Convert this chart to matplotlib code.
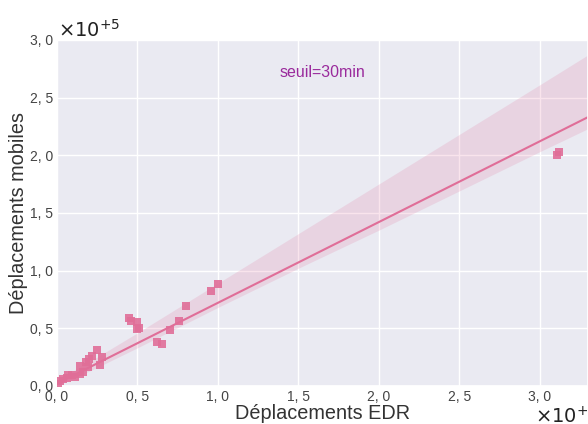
import numpy as np
import matplotlib
matplotlib.use("Agg")
import matplotlib.pyplot as plt
from matplotlib.ticker import FuncFormatter, MultipleLocator
import seaborn as sns

# deplacements EDR (x) vs deplacements mobiles (y), seuil = 30 min
edr = [600, 2000, 4000, 6000, 7000, 9000, 11000, 14000, 14000, 16000,
       18000, 19000, 20000, 22000, 25000, 27000, 28000, 45000, 46000, 50000,
       51000, 50000, 62000, 65000, 70000, 76000, 80000, 96000, 100000,
       311000, 312000]
mobiles = [1700, 4000, 6000, 7000, 9000, 9000, 8000, 17000, 10000, 12000,
           21000, 16000, 23000, 26000, 31000, 18000, 25000, 59000, 56000, 55000,
           50000, 49000, 38000, 36000, 48000, 56000, 69000, 82000, 88000,
           200000, 203000]

# fitted line and confidence band
fit_x = [0, 25000, 50000, 100000, 150000, 200000, 250000, 300000, 330000]
fit_y = [2000, 19500, 37000, 72000, 107000, 142000, 177000, 212000, 233000]
ci_low = [0, 16000, 33000, 68000, 102000, 135000, 169000, 203000, 223000]
ci_high = [5000, 25000, 46000, 89000, 132000, 175000, 218000, 261000, 287000]

PINK = "#e06e98"

sns.set_theme(style="darkgrid")
plt.rcParams['font.family'] = ['Liberation Sans', 'DejaVu Sans']

fig = plt.figure(figsize=(5.88, 4.24), dpi=100)
ax = fig.add_axes([0.097, 0.09, 0.903, 0.816])
ax.set_facecolor("#eaeaf2")

ax.fill_between(fit_x, ci_low, ci_high, color=PINK, alpha=0.18, linewidth=0)
ax.plot(fit_x, fit_y, color=PINK, lw=1.5)
ax.scatter(edr, mobiles, marker="s", s=26, color=PINK, alpha=0.9, linewidths=0,
           zorder=3)

ax.set_xlim(0, 3.3e5)
ax.set_ylim(0, 3.0e5)
ax.xaxis.set_major_locator(MultipleLocator(0.5e5))
ax.yaxis.set_major_locator(MultipleLocator(0.5e5))
fmt = FuncFormatter(lambda v, p: ("%.1f" % (v / 1e5)).replace(".", ", "))
ax.xaxis.set_major_formatter(fmt)
ax.yaxis.set_major_formatter(fmt)
ax.tick_params(labelsize=10, colors="#444444", length=0, pad=3)

ax.set_xlabel("Déplacements EDR", fontsize=14.3, color="#333333")
ax.set_ylabel("Déplacements mobiles", fontsize=14.3, color="#333333")
ax.xaxis.set_label_coords(0.5, -0.052)
ax.yaxis.set_label_coords(-0.054, 0.5)

ax.text(1.65e5, 2.72e5, "seuil=30min", color="#9a2a9c", fontsize=11.5,
        ha="center", va="center")

# offset (x 10^5) labels, as on the original figure
fig.text(0.0986, 0.913, r"$\times10^{+5}$", fontsize=14, color="#222222",
         ha="left", va="baseline", math_fontfamily="dejavusans")
fig.text(0.91, 0.004, r"$\times10^{+5}$", fontsize=14, color="#222222",
         ha="left", va="baseline", math_fontfamily="dejavusans")

fig.savefig("out.png", dpi=100)
